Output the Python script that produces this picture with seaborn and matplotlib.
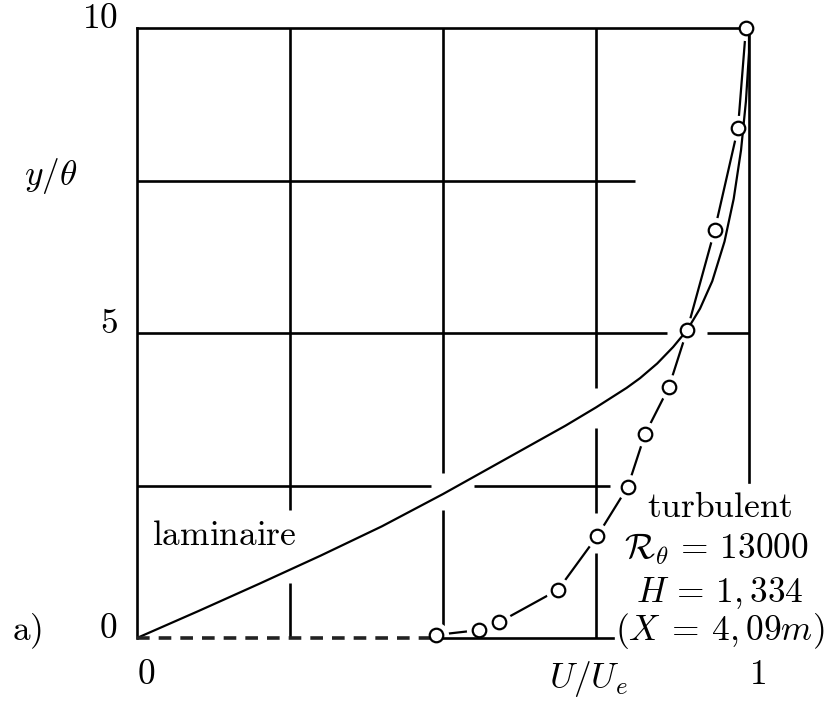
import matplotlib
matplotlib.use("Agg")
import matplotlib.pyplot as plt
import seaborn as sns
import pandas as pd

# ---- data ----
lam_u = [0.0, 0.1, 0.2, 0.3, 0.4, 0.5, 0.6, 0.65, 0.7, 0.75, 0.8, 0.822, 0.85, 0.876,
         0.899, 0.92, 0.94, 0.96, 0.975, 0.987, 0.995, 1.0, 1.0]
lam_y = [0.0, 0.44, 0.89, 1.35, 1.83, 2.36, 2.92, 3.20, 3.48, 3.78, 4.10, 4.26, 4.50, 4.77,
         5.05, 5.40, 5.85, 6.50, 7.20, 8.00, 8.80, 9.60, 10.0]

turb_u = [0.489, 0.559, 0.592, 0.688, 0.752, 0.802, 0.830, 0.869, 0.899, 0.944, 0.982, 0.995]
turb_y = [0.05, 0.13, 0.26, 0.79, 1.67, 2.48, 3.34, 4.11, 5.05, 6.69, 8.36, 10.0]

wall_u = [0.0, 0.489]   # dashed extension of turbulent profile along the wall
wall_y = [0.0, 0.0]

x_ticks = [0, 1]
x_ticklabels = ["$0$", "$1$"]
y_ticks = [0, 5, 10]
y_ticklabels = ["$0$", "$5$", "$10$"]

sns.set_theme(style="white")
plt.rcParams["mathtext.fontset"] = "cm"
plt.rcParams["font.family"] = ["DejaVu Serif", "DejaVu Sans"]

lam = pd.DataFrame({"u": lam_u, "y": lam_y})
turb = pd.DataFrame({"u": turb_u, "y": turb_y})

W, H = 825, 702
fig = plt.figure(figsize=(W / 100, H / 100), dpi=100)
fig.patch.set_facecolor("white")
ax = fig.add_axes([137 / W, 1 - 638 / H, (749 - 137) / W, (638 - 28) / H])
ax.set_facecolor("white")
ax.set_xlim(0, 1)
ax.set_ylim(0, 10)

FS = 25.5
LW_FRAME = 1.9
LW_CURVE = 1.6

# grid lines with gaps, as in the reference
gk = dict(color="black", lw=LW_FRAME, zorder=1, clip_on=False, solid_capstyle="butt")
ax.axhline(7.5, 0.0, 0.814, **gk)
ax.axhline(5.0, 0.0, 0.866, **gk)
ax.axhline(5.0, 0.931, 1.0, **gk)
ax.axhline(2.5, 0.0, 0.48, **gk)
ax.axhline(2.5, 0.55, 0.773, **gk)
ax.axvline(0.25, 0.21, 1.0, **gk)
ax.axvline(0.25, 0.0, 0.09, **gk)
ax.axvline(0.5, 0.27, 1.0, **gk)
ax.axvline(0.5, 0.0, 0.21, **gk)
ax.axvline(0.75, 0.41, 1.0, **gk)
ax.axvline(0.75, 0.205, 0.344, **gk)
ax.axvline(0.75, 0.0, 0.14, **gk)

# spines
for s in ax.spines.values():
    s.set_color("black")
    s.set_linewidth(LW_FRAME)
ax.spines["right"].set_bounds(2.56, 10)
ax.spines["bottom"].set_bounds(0.489, 0.778)

# turbulent profile: line, white halo gaps, open circles
sns.lineplot(data=turb, x="u", y="y", sort=False, estimator=None, color="black",
             lw=LW_CURVE, ax=ax, zorder=2.1)
ax.plot(wall_u, wall_y, color="#222222", lw=2.6, ls=(0, (3.5, 2.5)), zorder=2.6,
        clip_on=False, solid_capstyle="butt")
sns.scatterplot(data=turb, x="u", y="y", s=330, color="white", linewidth=0,
                ax=ax, zorder=2.2, clip_on=False, legend=False)
# laminar profile
sns.lineplot(data=lam, x="u", y="y", sort=False, estimator=None, color="black",
             lw=LW_CURVE, ax=ax, zorder=2.3)
sns.scatterplot(data=turb, x="u", y="y", s=95, facecolor="white", edgecolor="black",
                linewidth=1.6, ax=ax, zorder=4, clip_on=False, legend=False)

# ticks
ax.set_xticks(x_ticks)
ax.set_xticklabels(x_ticklabels, fontsize=FS, color="black")
ax.set_yticks(y_ticks)
ax.set_yticklabels(y_ticklabels, fontsize=FS, color="black")
ax.tick_params(length=0, pad=14)
for lbl in ax.get_xticklabels():
    lbl.set_ha("left")
for lbl in ax.get_yticklabels():
    lbl.set_va("baseline")
ax.set_xlabel("")
ax.set_ylabel("")

def ftext(px, py, s, **kw):
    fig.text(px / W, 1 - py / H, s, fontsize=FS, color="black", **kw)

ftext(51, 185, r"$y/\theta$", ha="center", va="baseline")
ftext(588, 688, r"$U/U_e$", ha="center", va="baseline")
ftext(12, 640, r"$\mathrm{a)}$", ha="left", va="baseline")
ftext(152, 545, r"$\mathrm{laminaire}$", ha="left", va="baseline")
ftext(720, 517, r"$\mathrm{turbulent}$", ha="center", va="baseline")
ftext(716, 559, r"$\mathcal{R}_\theta\,=\,13000$", ha="center", va="baseline")
ftext(720, 602, r"$H\,=\,1,334$", ha="center", va="baseline")
ftext(720, 640, r"$(X\:=\:4,09m)$", ha="center", va="baseline")

fig.savefig("out.png", dpi=100, facecolor="white")
